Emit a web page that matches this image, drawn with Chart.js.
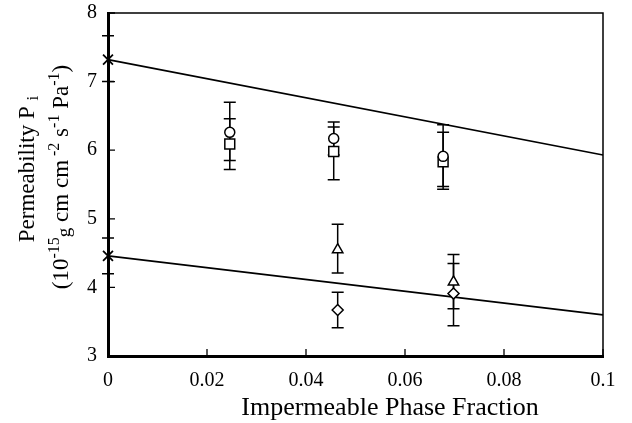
<!DOCTYPE html>
<html><head><meta charset="utf-8">
<script src="https://cdn.jsdelivr.net/npm/chart.js@4/dist/chart.umd.min.js"></script>
<style>html,body{margin:0;padding:0;background:#fff}#wrap{width:632px;height:423px}</style>
</head><body><div id="wrap"><canvas id="c" width="632" height="423"></canvas></div>
<script>
// ---- data ----
const xTickValues = [0, 0.02, 0.04, 0.06, 0.08, 0.1];
const yTickValues = [3, 4, 5, 6, 7, 8];
const lineX = [0, 0.1];
const upperLineY = [7.32, 5.93];
const lowerLineY = [4.46, 3.60];
const starX = [0, 0];
const starY = [7.32, 4.46];
const starHi = [7.67, 4.72];
const starLo = [7.00, 4.20];
const circleX = [0.0246, 0.0456, 0.0677];
const circleY = [6.26, 6.17, 5.91];
const circleHi = [6.70, 6.41, 6.37];
const circleLo = [5.85, 5.93, 5.47];
const squareX = [0.0246, 0.0456, 0.0677];
const squareY = [6.09, 5.98, 5.83];
const squareHi = [6.46, 6.34, 6.26];
const squareLo = [5.72, 5.57, 5.43];
const triangleX = [0.0464, 0.0698];
const triangleY = [4.55, 4.08];
const triangleHi = [4.92, 4.48];
const triangleLo = [4.21, 3.69];
const diamondX = [0.0464, 0.0698];
const diamondY = [3.67, 3.91];
const diamondHi = [3.93, 4.35];
const diamondLo = [3.41, 3.44];
const xTitle = 'Impermeable Phase Fraction';

const pts = (xs, ys) => xs.map((x, i) => ({x: x, y: ys[i]}));
const FONT = "'Liberation Serif', 'Times New Roman', serif";

function markerSet(xs, ys, hi, lo, style, r, order) {
  return {
    data: pts(xs, ys), hi: hi, lo: lo, showLine: false,
    pointStyle: style, pointRadius: r, pointHoverRadius: r,
    pointBackgroundColor: '#fff', pointBorderColor: '#000', pointBorderWidth: 1.5,
    order: order, clip: false
  };
}

const datasets = [
  {data: pts(lineX, upperLineY), showLine: true, borderColor: '#000', borderWidth: 1.6, pointRadius: 0, order: 5, clip: false},
  {data: pts(lineX, lowerLineY), showLine: true, borderColor: '#000', borderWidth: 1.6, pointRadius: 0, order: 5, clip: false},
  Object.assign(markerSet(starX, starY, starHi, starLo, 'crossRot', 7, 0), {pointBorderWidth: 1.8}),
  markerSet(squareX, squareY, squareHi, squareLo, 'rect', 7, 2),
  markerSet(circleX, circleY, circleHi, circleLo, 'circle', 5, 1),
  markerSet(triangleX, triangleY, triangleHi, triangleLo, 'triangle', 6, 1),
  markerSet(diamondX, diamondY, diamondHi, diamondLo, 'rectRot', 5.5, 2)
];

function drawRich(ctx, segs, cx, cy) {
  let total = 0;
  segs.forEach(s => { ctx.font = s.size + 'px ' + FONT; s.w = ctx.measureText(s.t).width; total += s.w; });
  let x = cx - total / 2;
  segs.forEach(s => { ctx.font = s.size + 'px ' + FONT; ctx.fillText(s.t, x, cy + (s.dy || 0)); x += s.w; });
}

const decor = {
  id: 'decor',
  beforeDatasetsDraw(chart) {
    const ctx = chart.ctx, xs = chart.scales.x, ys = chart.scales.y;
    ctx.save();
    ctx.strokeStyle = '#000'; ctx.lineWidth = 1.5;
    chart.data.datasets.forEach(ds => {
      if (!ds.hi) return;
      ds.data.forEach((p, i) => {
        const px = xs.getPixelForValue(p.x);
        const ph = ys.getPixelForValue(ds.hi[i]);
        const pl = ys.getPixelForValue(ds.lo[i]);
        ctx.beginPath();
        ctx.moveTo(px, ph); ctx.lineTo(px, pl);
        ctx.moveTo(px - 6, ph); ctx.lineTo(px + 6, ph);
        ctx.moveTo(px - 6, pl); ctx.lineTo(px + 6, pl);
        ctx.stroke();
      });
    });
    ctx.restore();
  },
  afterDraw(chart) {
    const ctx = chart.ctx, a = chart.chartArea, xs = chart.scales.x, ys = chart.scales.y;
    ctx.save();
    ctx.strokeStyle = '#000';
    ctx.lineWidth = 1.5;
    ctx.beginPath();
    ctx.moveTo(a.left, a.top); ctx.lineTo(a.right, a.top); ctx.lineTo(a.right, a.bottom);
    ctx.stroke();
    ctx.lineWidth = 1.3;
    ctx.beginPath();
    yTickValues.forEach(v => { const y = ys.getPixelForValue(v); ctx.moveTo(a.left, y); ctx.lineTo(a.left + 7, y); });
    xTickValues.forEach(v => { const x = xs.getPixelForValue(v); ctx.moveTo(x, a.bottom); ctx.lineTo(x, a.bottom - 7); });
    ctx.stroke();
    ctx.fillStyle = '#000';
    ctx.textBaseline = 'middle';
    ctx.textAlign = 'left';
    drawRich(ctx, [{t: xTitle, size: 26}], 390, 408);
    ctx.save();
    ctx.translate(28, 169);
    ctx.rotate(-Math.PI / 2);
    drawRich(ctx, [{t: 'Permeability P ', size: 23}, {t: 'i', size: 17, dy: 6}], 0, 0);
    ctx.restore();
    ctx.save();
    ctx.translate(62, 177);
    ctx.rotate(-Math.PI / 2);
    drawRich(ctx, [
      {t: '(10', size: 23}, {t: '-15', size: 16, dy: -7}, {t: 'g', size: 19, dy: 3},
      {t: ' cm cm', size: 23}, {t: ' -2', size: 16, dy: -7},
      {t: ' s', size: 23}, {t: '-1', size: 16, dy: -7},
      {t: ' Pa', size: 23}, {t: '-1', size: 16, dy: -7}, {t: ')', size: 23}
    ], 0, 0);
    ctx.restore();
    ctx.restore();
  }
};

new Chart(document.getElementById('c'), {
  type: 'scatter',
  data: {datasets: datasets},
  plugins: [decor],
  options: {
    responsive: false, animation: false, devicePixelRatio: 1,
    layout: {padding: {left: 0, right: 29, top: 13, bottom: 0}},
    plugins: {legend: {display: false}, tooltip: {enabled: false}},
    scales: {
      x: {
        type: 'linear', min: 0, max: 0.1,
        afterFit: s => { s.height = 67; },
        afterBuildTicks: s => { s.ticks = xTickValues.map(v => ({value: v})); },
        grid: {display: true, drawOnChartArea: false, drawTicks: true, tickLength: 13, tickColor: 'rgba(0,0,0,0)'},
        border: {display: true, color: '#000', width: 3},
        ticks: {color: '#000', padding: 0, maxRotation: 0, font: {family: FONT, size: 20},
                callback: v => String(v)}
      },
      y: {
        type: 'linear', min: 3, max: 8,
        afterFit: s => { s.width = 108; },
        afterBuildTicks: s => { s.ticks = yTickValues.map(v => ({value: v})); },
        grid: {display: true, drawOnChartArea: false, drawTicks: true, tickLength: 11, tickColor: 'rgba(0,0,0,0)'},
        border: {display: true, color: '#000', width: 3},
        ticks: {color: '#000', padding: 0, font: {family: FONT, size: 20}, callback: v => String(v)}
      }
    }
  }
});
</script></body></html>
